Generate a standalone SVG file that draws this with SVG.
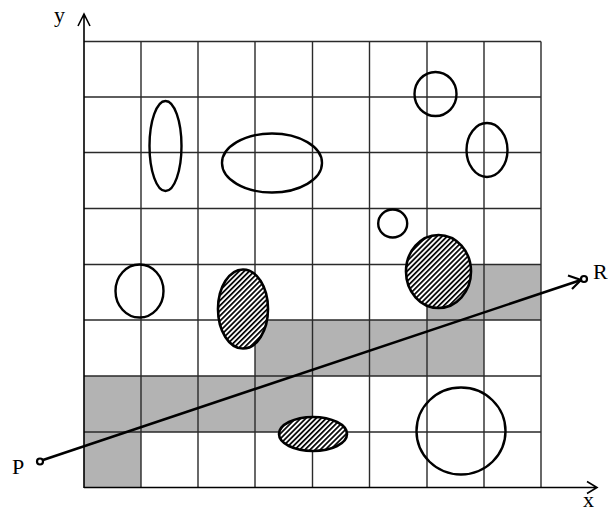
<svg xmlns="http://www.w3.org/2000/svg" width="608" height="512" viewBox="0 0 608 512">
<style>
.grid{stroke:#2a2a2a;stroke-width:1.4;fill:none}
.cell{fill:#b3b3b3;stroke:none}
.ell{fill:none;stroke:#000;stroke-width:2.4}
.hat{fill:url(#hatch);stroke:#000;stroke-width:2.6}
.axis{stroke:#000;stroke-width:1.6;fill:none}
.lbl{font-family:"Liberation Serif",serif;fill:#000;font-size:22px}
</style>
<defs>
<pattern id="hatch" patternUnits="userSpaceOnUse" width="3.6" height="10" patternTransform="rotate(45)">
<rect x="0" y="0" width="3.6" height="10" fill="#fff"/>
<rect x="0" y="0" width="1.7" height="10" fill="#000"/>
</pattern>
</defs>
<g id="shading">
<rect class="cell" x="84" y="376" width="228.5" height="56"/>
<rect class="cell" x="84" y="432" width="57" height="55.5"/>
<rect class="cell" x="255" y="320" width="229" height="56"/>
<rect class="cell" x="427" y="264.5" width="114" height="55.5"/>
</g>
<g id="grid" class="grid">
<path d="M141 41.5V487.5M198 41.5V487.5M255 41.5V487.5M312.5 41.5V487.5M369.5 41.5V487.5M427 41.5V487.5M484 41.5V487.5M541 41.5V487.5"/>
<path d="M84 41.5H541M84 97H541M84 152.5H541M84 208.5H541M84 264.5H541M84 320H541M84 376H541M84 432H541"/>
</g>
<g id="axes" class="axis">
<path d="M84 488V14M78 26L84 14L90 26"/>
<path d="M84 487.5H597M587 481.5L597 487.5L587 493.5"/>
</g>
<g id="obstacles">
<ellipse id="e1" class="ell" cx="165.5" cy="146" rx="16" ry="45"/>
<ellipse id="e2" class="ell" cx="272" cy="163" rx="50" ry="29.5"/>
<ellipse id="e3" class="ell" cx="435.5" cy="94" rx="21" ry="22"/>
<ellipse id="e4" class="ell" cx="487" cy="150" rx="20.5" ry="27"/>
<ellipse id="e5" class="ell" cx="392.7" cy="223.5" rx="14.5" ry="14"/>
<ellipse id="e6" class="ell" cx="139.5" cy="291" rx="24" ry="26.5"/>
<ellipse id="e7" class="ell" cx="461" cy="431" rx="44.5" ry="43.5"/>
<ellipse id="h1" class="hat" cx="243" cy="309" rx="25" ry="39.5"/>
<ellipse id="h2" class="hat" cx="438.5" cy="271.5" rx="32.5" ry="36.5"/>
<ellipse id="h3" class="hat" cx="313" cy="434" rx="34" ry="17"/>
</g>
<g id="connectors">
<path d="M40 461L581 280" stroke="#000" stroke-width="2.6" fill="none"/>
<path d="M568 275.5L581 280L572 289" stroke="#000" stroke-width="2.2" fill="none"/>
</g>
<g id="P"><circle cx="40" cy="461.5" r="3" fill="#fff" stroke="#000" stroke-width="2.2"/><text class="lbl" x="12" y="474">P</text></g>
<g id="R"><circle cx="584" cy="279" r="3" fill="#fff" stroke="#000" stroke-width="2.2"/><text class="lbl" x="593" y="279">R</text></g>
<text class="lbl" x="54" y="22">y</text>
<text class="lbl" x="583" y="507">x</text>
</svg>
